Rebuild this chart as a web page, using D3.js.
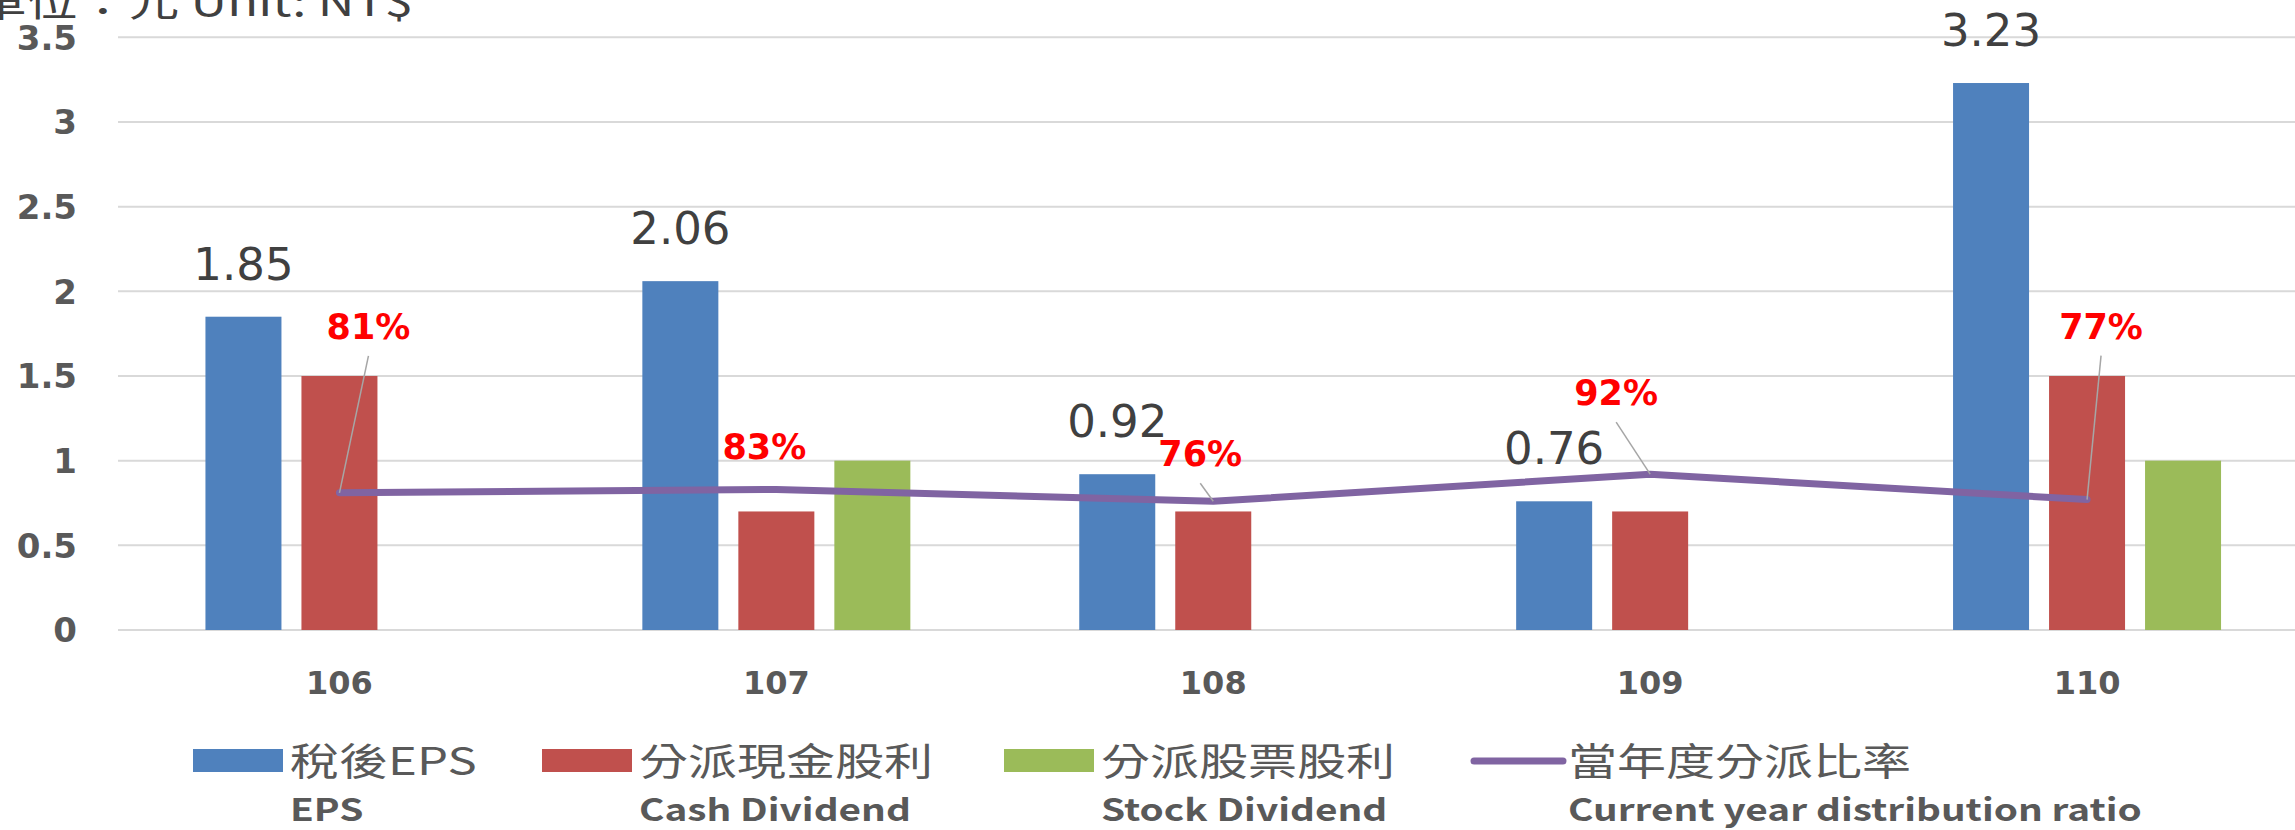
<!DOCTYPE html>
<html>
<head>
<meta charset="utf-8">
<script src="https://cdn.jsdelivr.net/npm/d3@7"></script>
<style>
  html, body { margin: 0; padding: 0; background: #fff; }
  svg { display: block; }
</style>
</head>
<body>
<svg></svg>
<script>
let width = 2295, height = 830;

// data
let years = ["106", "107", "108", "109", "110"];
let eps = [1.85, 2.06, 0.92, 0.76, 3.23];
let cashDividend = [1.5, 0.7, 0.7, 0.7, 1.5];
let stockDividend = [null, 1, null, null, 1];
let ratio = [0.81, 0.83, 0.76, 0.92, 0.77];
let yTicks = [0, 0.5, 1, 1.5, 2, 2.5, 3, 3.5];

let seriesNames = ["稅後EPS", "分派現金股利", "分派股票股利", "當年度分派比率"];
let seriesNamesEn = ["EPS", "Cash Dividend", "Stock Dividend", "Current year distribution ratio"];

// where each % label was dragged to (relative to its point), and whether it has a leader line
let ratioLabelOffset = [[29, -154, true], [-12, -30, false], [-13, -35, true], [-34, -69, true], [14, -161, true]];

// legend entry left edges
let legendX = [193, 542, 1004, 1471];

let colors = ["#4F81BD", "#C0504D", "#9BBB59", "#8064A2"];

let svg = d3.select("svg")
    .attr("width", width)
    .attr("height", height);

svg.append("rect").attr("width", width).attr("height", height).attr("fill", "#fff");

let y = d3.scaleLinear().domain([0, 3.5]).range([630, 37.3]);

let x0 = d3.scaleBand()
    .domain(years)
    .range([121, 2305.5])
    .paddingInner(0.3408)
    .paddingOuter(0.1704);

let x1 = d3.scaleBand()
    .domain([0, 1, 2])
    .range([0, x0.bandwidth()])
    .paddingInner(0.2083)
    .paddingOuter(0.1042);

let cx = d => x0(d) + x0.bandwidth() / 2;

// gridlines
svg.append("g")
    .selectAll("line")
    .data(yTicks)
    .enter()
    .append("line")
    .attr("x1", 118)
    .attr("x2", width)
    .attr("y1", d => y(d))
    .attr("y2", d => y(d))
    .attr("stroke", "#D9D9D9")
    .attr("stroke-width", 2);

// y labels
svg.append("g")
    .selectAll("text")
    .data(yTicks)
    .enter()
    .append("text")
    .attr("x", 77)
    .attr("y", d => y(d))
    .attr("dy", "0.36em")
    .attr("text-anchor", "end")
    .style("font-family", "'DejaVu Sans'")
    .style("font-weight", "bold")
    .style("font-size", "34px")
    .style("fill", "#595959")
    .text(d => d);

// category labels
svg.append("g")
    .selectAll("text")
    .data(years)
    .enter()
    .append("text")
    .attr("x", d => cx(d))
    .attr("y", 694)
    .attr("text-anchor", "middle")
    .style("font-family", "'DejaVu Sans'")
    .style("font-weight", "bold")
    .style("font-size", "32px")
    .style("fill", "#595959")
    .text(d => d);

// bars
let barData = [];
years.forEach((yr, i) => {
    [eps[i], cashDividend[i], stockDividend[i]].forEach((v, s) => {
        if (v != null) barData.push({ year: yr, s: s, v: v });
    });
});

svg.append("g")
    .selectAll("rect")
    .data(barData)
    .enter()
    .append("rect")
    .attr("x", d => x0(d.year) + x1(d.s))
    .attr("width", x1.bandwidth())
    .attr("y", d => y(d.v))
    .attr("height", d => y(0) - y(d.v))
    .attr("fill", d => colors[d.s]);

// eps value labels
svg.append("g")
    .selectAll("text")
    .data(years)
    .enter()
    .append("text")
    .attr("x", d => x0(d) + x1(0) + x1.bandwidth() / 2)
    .attr("y", (d, i) => y(eps[i]) - 37)
    .attr("text-anchor", "middle")
    .style("font-family", "'DejaVu Sans'")
    .style("font-size", "45px")
    .style("fill", "#404040")
    .text((d, i) => eps[i].toFixed(2));

// ratio line
let line = d3.line()
    .x((d, i) => cx(years[i]))
    .y(d => y(d));

svg.append("path")
    .datum(ratio)
    .attr("d", line)
    .attr("fill", "none")
    .attr("stroke", colors[3])
    .attr("stroke-width", 7)
    .attr("stroke-linejoin", "round")
    .attr("stroke-linecap", "round");

// leader lines + % labels
let ratioG = svg.append("g");
ratio.forEach((r, i) => {
    let px = cx(years[i]), py = y(r);
    let o = ratioLabelOffset[i];
    if (o[2]) {
        ratioG.append("line")
            .attr("x1", px + o[0])
            .attr("y1", py + o[1] + 17)
            .attr("x2", px)
            .attr("y2", py)
            .attr("stroke", "#A6A6A6")
            .attr("stroke-width", 1.5);
    }
    ratioG.append("text")
        .attr("x", px + o[0])
        .attr("y", py + o[1])
        .attr("text-anchor", "middle")
        .style("font-family", "'DejaVu Sans'")
        .style("font-weight", "bold")
        .style("font-size", "35px")
        .style("fill", "#FF0000")
        .text(Math.round(r * 100) + "%");
});

// stretch helper (the original text is wider than the fonts here)
function stretch(t, k) {
    let w = t.node().getComputedTextLength();
    t.attr("textLength", w * k).attr("lengthAdjust", "spacingAndGlyphs");
    return w * k;
}

// unit title
let title = svg.append("text")
    .attr("y", 16)
    .style("font-family", "'Noto Sans CJK TC'")
    .style("font-size", "40px")
    .style("fill", "#404040")
    .text("單位：元 Unit: NT$");
let tw = stretch(title, 1.27);
title.attr("x", 413 - tw);

// legend
seriesNames.forEach((name, i) => {
    let lx = legendX[i];
    if (i < 3) {
        svg.append("rect")
            .attr("x", lx)
            .attr("y", 749)
            .attr("width", 90)
            .attr("height", 23)
            .attr("fill", colors[i]);
    } else {
        svg.append("line")
            .attr("x1", lx + 3)
            .attr("x2", lx + 92)
            .attr("y1", 761)
            .attr("y2", 761)
            .attr("stroke", colors[i])
            .attr("stroke-width", 7)
            .attr("stroke-linecap", "round");
    }
    let tx = lx + 97;
    let t1 = svg.append("text")
        .attr("x", tx)
        .attr("y", 775)
        .style("font-family", "'Noto Sans CJK TC'")
        .style("font-size", "38px")
        .style("fill", "#595959")
        .text(name);
    stretch(t1, 1.29);
    let t2 = svg.append("text")
        .attr("x", tx)
        .attr("y", 821)
        .style("font-family", "'Noto Sans CJK TC'")
        .style("font-weight", "bold")
        .style("font-size", "31px")
        .style("fill", "#595959")
        .text(seriesNamesEn[i]);
    stretch(t2, 1.25);
});
</script>
</body>
</html>
